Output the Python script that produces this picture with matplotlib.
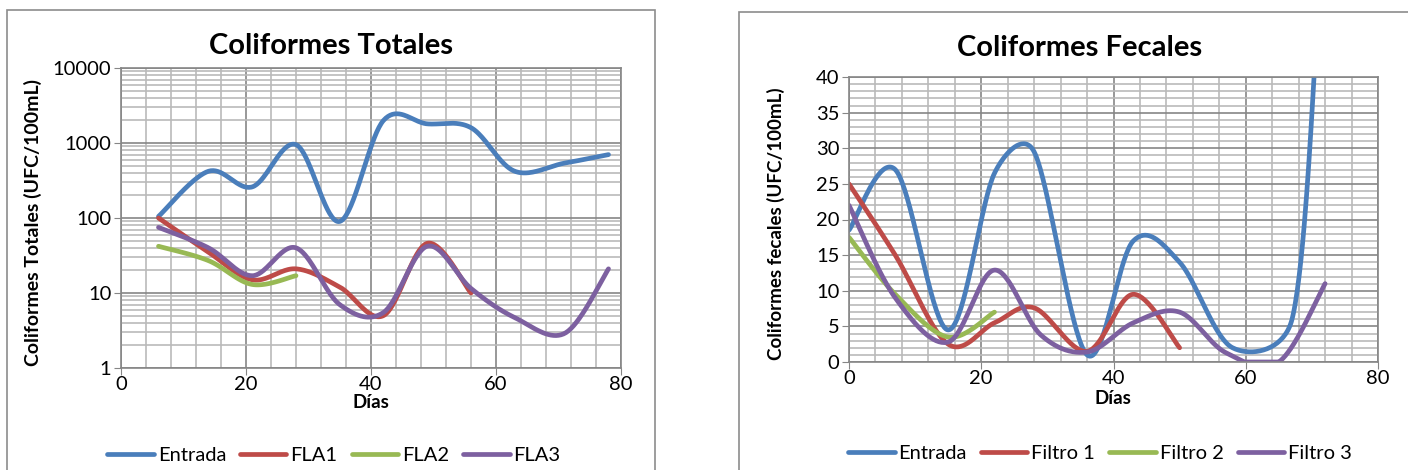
import numpy as np
import matplotlib.pyplot as plt
from matplotlib.ticker import MultipleLocator, LogLocator, NullFormatter, FixedLocator
from matplotlib.patches import Rectangle
from matplotlib.lines import Line2D

plt.rcParams['font.family'] = ['Lato', 'DejaVu Sans']

# Coliformes totales (escala log)
dias_tot_ent = [6, 14, 21, 28, 35, 42, 49, 56, 63, 71, 78]
tot_entrada = [105, 420, 260, 950, 90, 2000, 1800, 1600, 420, 540, 700]
dias_tot_fla1 = [6, 14, 21, 28, 35, 42, 49, 56]
tot_fla1 = [100, 35, 15, 21, 12, 5, 46, 10]
dias_tot_fla2 = [6, 14, 21, 28]
tot_fla2 = [42, 27, 13, 17]
dias_tot_fla3 = [6, 14, 21, 28, 35, 42, 49, 56, 63, 71, 78]
tot_fla3 = [75, 40, 17, 40, 7, 5.5, 42, 11.5, 4.7, 2.9, 21]

# Coliformes fecales
dias_fec_ent = [0, 7, 15, 22, 28, 36, 43, 50, 58, 67, 71]
fec_entrada = [18.5, 27, 4.5, 26.5, 29.5, 1, 17, 14, 2, 6, 50]
dias_fec_f1 = [0, 7, 15, 22, 28, 36, 43, 50]
fec_filtro1 = [25, 15, 2.5, 5.5, 7.6, 1.5, 9.5, 2]
dias_fec_f2 = [0, 7, 15, 22]
fec_filtro2 = [17.5, 9.5, 3.5, 7]
dias_fec_f3 = [0, 7, 15, 22, 29, 36, 43, 50, 57, 65, 72]
fec_filtro3 = [22, 9, 2.8, 12.9, 3.8, 1.4, 5.5, 7, 1.3, 0, 11]

colores = ['#4A7EBB', '#BE4B48', '#98B954', '#7D60A0']
nombres_tot = ['Entrada', 'FLA1', 'FLA2', 'FLA3']
nombres_fec = ['Entrada', 'Filtro 1', 'Filtro 2', 'Filtro 3']

W, H = 1408, 470
fig = plt.figure(figsize=(W / 100, H / 100), dpi=100)


def box(x0, y0, x1, y1):
    return [x0 / W, 1 - y1 / H, (x1 - x0) / W, (y1 - y0) / H]


# chart frames
for fx0, fy0, fx1 in [(7, 10, 655), (739, 12, 1420)]:
    fig.patches.append(Rectangle((fx0 / W, -0.05), (fx1 - fx0) / W, 1 - fy0 / H + 0.05,
                                 transform=fig.transFigure, fill=False,
                                 edgecolor='#8c8c8c', lw=1.2, zorder=-5))


def smooth(ax, xs, ys, n=40):
    # excel-like smoothed line, bezier in screen space
    p = ax.transData.transform(np.column_stack([xs, ys]))
    out = [p[0]]
    m = len(p)
    t = np.linspace(0, 1, n)[1:, None]
    for i in range(m - 1):
        p0, p1, p2, p3 = p[max(i - 1, 0)], p[i], p[i + 1], p[min(i + 2, m - 1)]
        d12 = np.hypot(*(p2 - p1))
        t1 = (p2 - p0) / 6
        t2 = (p3 - p1) / 6
        for tv in (t1, t2):
            l = np.hypot(*tv)
            if l > d12 / 2:
                tv *= d12 / 2 / l
        c1, c2 = p1 + t1, p2 - t2
        seg = (1 - t) ** 3 * p1 + 3 * (1 - t) ** 2 * t * c1 + 3 * (1 - t) * t ** 2 * c2 + t ** 3 * p2
        out.extend(seg)
    out = ax.transData.inverted().transform(np.array(out))
    return out[:, 0], out[:, 1]


def style(ax):
    ax.grid(True, which='major', color='#868686', lw=1.2)
    ax.grid(True, which='minor', color='#bababa', lw=1.2)
    ax.set_axisbelow(True)
    for s in ax.spines.values():
        s.set_color('#868686')
        s.set_linewidth(1.2)
    ax.tick_params(which='major', direction='out', length=5, color='#868686',
                   labelsize=14.5, pad=2)
    ax.tick_params(axis='x', pad=1)
    ax.tick_params(which='minor', length=0)


# ---- left: totales
ax1 = fig.add_axes(box(121, 68, 621, 368))
ax1.set_yscale('log')
ax1.set_xlim(0, 80)
ax1.set_ylim(1, 10000)
ax1.xaxis.set_major_locator(MultipleLocator(20))
ax1.xaxis.set_minor_locator(MultipleLocator(4))
ax1.yaxis.set_major_locator(FixedLocator([1, 10, 100, 1000, 10000]))
ax1.yaxis.set_minor_locator(LogLocator(base=10, subs=np.arange(2, 10)))
ax1.yaxis.set_minor_formatter(NullFormatter())
ax1.set_yticklabels(['1', '10', '100', '1000', '10000'])
style(ax1)

series_tot = [(dias_tot_ent, tot_entrada), (dias_tot_fla1, tot_fla1),
              (dias_tot_fla2, tot_fla2), (dias_tot_fla3, tot_fla3)]
for (d, v), c in zip(series_tot, colores):
    sx, sy = smooth(ax1, d, v)
    ax1.plot(sx, sy, color=c, lw=3.4, solid_capstyle='round')

# ---- right: fecales
ax2 = fig.add_axes(box(849, 77, 1378, 362))
ax2.set_xlim(0, 80)
ax2.set_ylim(0, 40)
ax2.xaxis.set_major_locator(MultipleLocator(20))
ax2.xaxis.set_minor_locator(MultipleLocator(4))
ax2.yaxis.set_major_locator(MultipleLocator(5))
ax2.yaxis.set_minor_locator(MultipleLocator(1))
style(ax2)

series_fec = [(dias_fec_ent, fec_entrada), (dias_fec_f1, fec_filtro1),
              (dias_fec_f2, fec_filtro2), (dias_fec_f3, fec_filtro3)]
for (d, v), c in zip(series_fec, colores):
    sx, sy = smooth(ax2, d, v)
    ax2.plot(sx, np.maximum(sy, 0), color=c, lw=3.4, solid_capstyle='round')

# text
fig.text(331 / W, 1 - 46 / H, 'Coliformes Totales', ha='center', va='center',
         fontsize=21, fontweight='bold')
fig.text(1080 / W, 1 - 48 / H, 'Coliformes Fecales', ha='center', va='center',
         fontsize=21, fontweight='bold')
fig.text(33 / W, 1 - 222 / H, 'Coliformes Totales (UFC/100mL)', rotation=90,
         ha='center', va='center', fontsize=14, fontweight='bold')
fig.text(776 / W, 1 - 224 / H, 'Coliformes fecales (UFC/100mL)', rotation=90,
         ha='center', va='center', fontsize=13.5, fontweight='bold')
fig.text(371 / W, 1 - 403 / H, 'Días', ha='center', va='center',
         fontsize=13.5, fontweight='bold')
fig.text(1113 / W, 1 - 399 / H, 'Días', ha='center', va='center',
         fontsize=13.5, fontweight='bold')

for nombres, cx, cy in [(nombres_tot, 334, 455), (nombres_fec, 1100, 453)]:
    handles = [Line2D([], [], color=c, lw=3.4, solid_capstyle='round') for c in colores]
    fig.legend(handles, nombres, loc='center', bbox_to_anchor=(cx / W, 1 - cy / H),
               ncol=4, frameon=False, fontsize=14.5, handlelength=2.3,
               handletextpad=0.2, columnspacing=0.7, borderaxespad=0)

fig.savefig('out.png', dpi=100)
